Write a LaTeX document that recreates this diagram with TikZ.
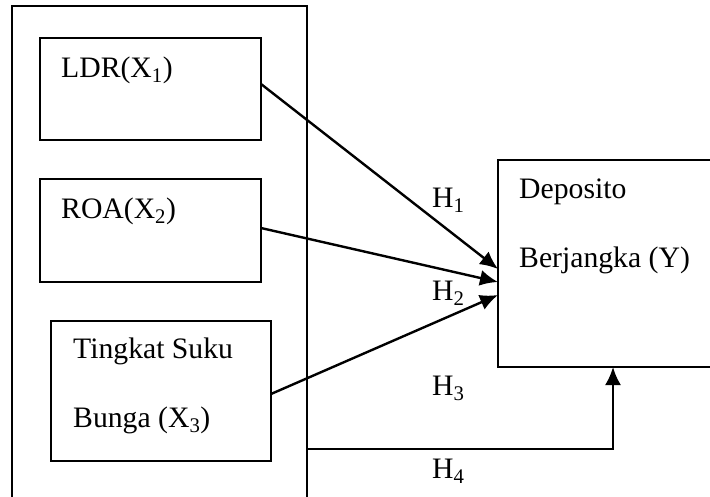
\documentclass[tikz,border=0pt]{standalone}
\usepackage{fontspec}
\setmainfont{Liberation Serif}
\usetikzlibrary{arrows.meta}
\tikzset{every node/.style={align=left, inner sep=0pt}, arr/.style={-{Latex[length=18pt,width=16pt]}}, font=\fontsize{29.7}{36}\selectfont}

\begin{document}
\begin{tikzpicture}[x=1pt, y=-1pt, line width=2.4pt, box/.style={draw, rectangle, outer sep=0pt, anchor=north west}]
             \useasboundingbox (0,0) rectangle (710,496);
             \node [box, minimum width=295pt, minimum height=494pt] (outer) at (12,6) {};
             \node [box, minimum width=221pt, minimum height=102pt] (ldr) at (40,38) {};
             \node [box, minimum width=221pt, minimum height=103pt] (roa) at (40,179) {};
             \node [box, minimum width=220pt, minimum height=140pt] (tsb) at (51,321) {};
             \node [box, minimum width=214pt, minimum height=207pt] (dep) at (498,160) {};

             \node [anchor=base west] (ldrtext) at ([shift={(20,39)}]ldr.north west) {LDR(X\textsubscript{1})};
             \node [anchor=base west] (roatext) at ([shift={(20,39)}]roa.north west) {ROA(X\textsubscript{2})};
             \node [anchor=base west] (tsbtext) at ([shift={(21,37)}]tsb.north west) {Tingkat Suku};
             \node [anchor=base west] (tsbtext2) at ([shift={(21,106)}]tsb.north west) {Bunga (X\textsubscript{3})};
             \node [anchor=base west] (deptext) at ([shift={(20,38)}]dep.north west) {Deposito};
             \node [anchor=base west] (deptext2) at ([shift={(20,107)}]dep.north west) {Berjangka (Y)};

             \node [anchor=base west] (h1) at (431,207) {H\textsubscript{1}};
             \node [anchor=base west] (h2) at (431,300) {H\textsubscript{2}};
             \node [anchor=base west] (h3) at (431,395) {H\textsubscript{3}};
             \node [anchor=base west] (h4) at (431,478) {H\textsubscript{4}};

             \draw[arr] ([yshift=5pt]ldr.east) -- ([yshift=-5.5pt]dep.west);
             \draw[arr] ([yshift=2.5pt]roa.east) -- ([yshift=-18.5pt]dep.west);
             \draw[arr] ([yshift=-3pt]tsb.east) -- ([yshift=-31.5pt]dep.west);
             \draw[arr] ([yshift=-196pt]outer.east) -| ([xshift=8pt]dep.south);
\end{tikzpicture}
\end{document}
